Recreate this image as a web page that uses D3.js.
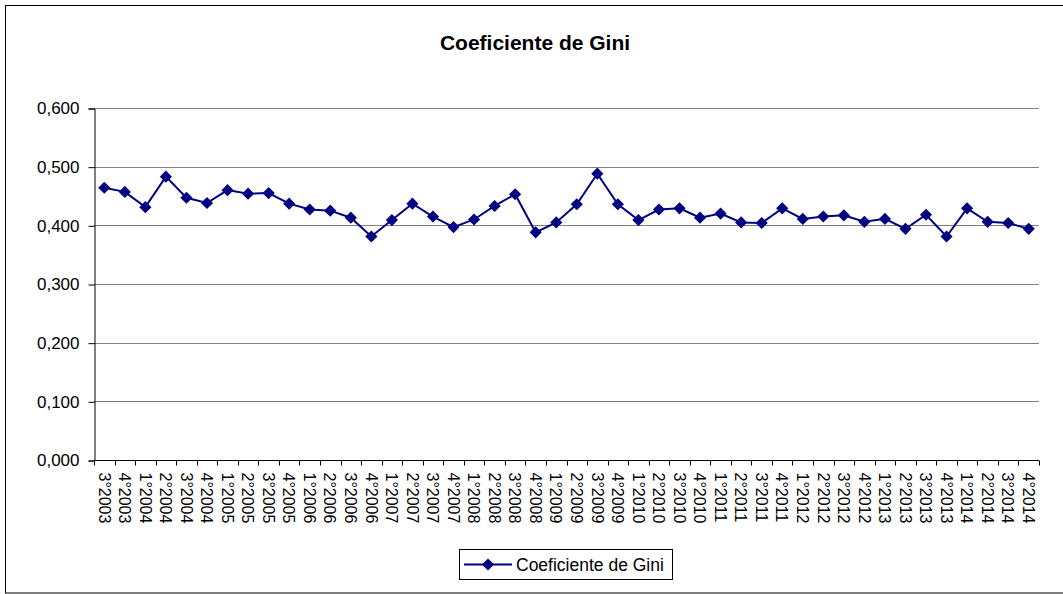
<!DOCTYPE html>
<html>
<head>
<meta charset="utf-8">
<script src="https://cdn.jsdelivr.net/npm/d3@7/dist/d3.min.js"></script>
<style>
  body { margin: 0; background: #fff; }
  text { font-family: "Liberation Sans", Arial, sans-serif; }
</style>
</head>
<body>
<svg id="chart" width="1063" height="594"></svg>
<script>
const categories = [
  "3°2003","4°2003",
  "1°2004","2°2004","3°2004","4°2004",
  "1°2005","2°2005","3°2005","4°2005",
  "1°2006","2°2006","3°2006","4°2006",
  "1°2007","2°2007","3°2007","4°2007",
  "1°2008","2°2008","3°2008","4°2008",
  "1°2009","2°2009","3°2009","4°2009",
  "1°2010","2°2010","3°2010","4°2010",
  "1°2011","2°2011","3°2011","4°2011",
  "1°2012","2°2012","3°2012","4°2012",
  "1°2013","2°2013","3°2013","4°2013",
  "1°2014","2°2014","3°2014","4°2014"
];
const giniValues = [
  0.464, 0.457,
  0.431, 0.483, 0.447, 0.438,
  0.460, 0.454, 0.455, 0.437,
  0.427, 0.425, 0.413, 0.381,
  0.409, 0.437, 0.415, 0.397,
  0.410, 0.433, 0.453, 0.388,
  0.405, 0.436, 0.488, 0.436,
  0.409, 0.427, 0.429, 0.413,
  0.420, 0.405, 0.404, 0.429,
  0.411, 0.415, 0.417, 0.406,
  0.411, 0.394, 0.418, 0.381,
  0.429, 0.406, 0.404, 0.394
];
const yTicks = [0, 0.1, 0.2, 0.3, 0.4, 0.5, 0.6];
const yTickLabels = ["0,000","0,100","0,200","0,300","0,400","0,500","0,600"];
const seriesName = "Coeficiente de Gini";
const titleText = "Coeficiente de Gini";

const svg = d3.select("#chart");
const plot = { left: 94, right: 1039, top: 108, bottom: 460 };
const navy = "#000080";

// outer chart border
svg.append("rect")
  .attr("x", 5.5).attr("y", 5.5)
  .attr("width", 1070).attr("height", 587.5)
  .attr("fill", "#fff").attr("stroke", "#000").attr("stroke-width", 1);

const x = d3.scaleBand().domain(categories).range([plot.left, plot.right]).paddingInner(0).paddingOuter(0);
const y = d3.scaleLinear().domain([0, 0.6]).range([plot.bottom, plot.top]);

// gridlines
svg.append("g").selectAll("line").data(yTicks.filter(d => d > 0)).join("line")
  .attr("x1", plot.left).attr("x2", plot.right)
  .attr("y1", d => Math.round(y(d)) + 0.5).attr("y2", d => Math.round(y(d)) + 0.5)
  .attr("stroke", "#808080").attr("stroke-width", 1);

// Y axis
const yAxis = d3.axisLeft(y).tickValues(yTicks)
  .tickFormat((d, i) => yTickLabels[i]).tickSize(6).tickPadding(9);
const gy = svg.append("g").attr("transform", `translate(${plot.left + 0.5},0.5)`).call(yAxis);
gy.select(".domain").attr("stroke", "#000");
gy.selectAll(".tick line").attr("stroke", "#000");
gy.selectAll(".tick text").attr("font-size", "17px").attr("fill", "#000")
  .attr("font-family", "'Liberation Sans', Arial, sans-serif");

// X axis: ticks at category boundaries
const gx = svg.append("g").attr("transform", `translate(0,${plot.bottom + 0.5})`);
gx.append("line").attr("x1", plot.left).attr("x2", plot.right).attr("stroke", "#000");
const boundaries = categories.map(c => x(c)).concat([plot.right]);
gx.selectAll("line.tk").data(boundaries).join("line").attr("class", "tk")
  .attr("x1", d => Math.round(d) + 0.5).attr("x2", d => Math.round(d) + 0.5)
  .attr("y1", 0).attr("y2", 5).attr("stroke", "#000");
gx.selectAll("text").data(categories).join("text")
  .attr("transform", d => `translate(${x(d) + x.bandwidth() / 2},12) rotate(90)`)
  .attr("dy", "0.36em")
  .attr("font-size", "16px").attr("fill", "#000")
  .text(d => d);

// series line
const line = d3.line()
  .x((d, i) => x(categories[i]) + x.bandwidth() / 2)
  .y(d => y(d));
svg.append("path").datum(giniValues)
  .attr("d", line).attr("fill", "none")
  .attr("stroke", navy).attr("stroke-width", 2);

const diamond = d3.symbol().type(d3.symbolSquare).size(74);
svg.append("g").selectAll("path").data(giniValues).join("path")
  .attr("transform", (d, i) => `translate(${x(categories[i]) + x.bandwidth() / 2},${y(d)}) rotate(45)`)
  .attr("d", diamond).attr("fill", navy);

// title
svg.append("text")
  .attr("x", 535).attr("y", 50)
  .attr("text-anchor", "middle")
  .attr("font-size", "21px").attr("font-weight", "bold").attr("fill", "#000")
  .text(titleText);

// legend
const lg = svg.append("g");
lg.append("rect").attr("x", 459.5).attr("y", 549.5).attr("width", 213).attr("height", 30)
  .attr("fill", "#fff").attr("stroke", "#000");
lg.append("line").attr("x1", 464).attr("x2", 512).attr("y1", 564.5).attr("y2", 564.5)
  .attr("stroke", navy).attr("stroke-width", 2);
lg.append("path").attr("transform", "translate(488,564.5) rotate(45)").attr("d", diamond).attr("fill", navy);
lg.append("text").attr("x", 516).attr("y", 571).attr("font-size", "17.5px").attr("fill", "#000")
  .text(seriesName);
</script>
</body>
</html>
